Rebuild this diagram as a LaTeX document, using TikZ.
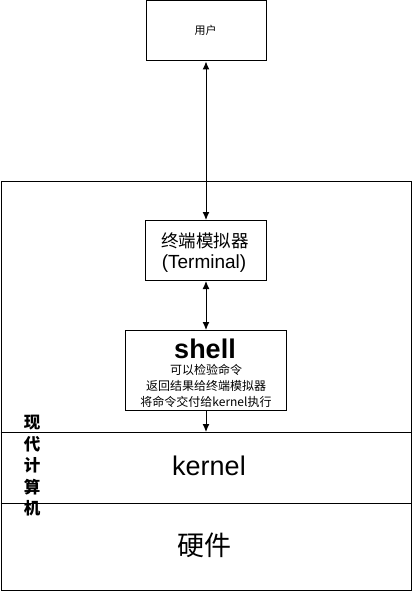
\documentclass[tikz,border=0pt]{standalone}
\usepackage{fontspec}
\setmainfont{Liberation Sans}
\newfontfamily\cjk{Noto Sans CJK SC}
\usetikzlibrary{arrows.meta}
\begin{document}
\begin{tikzpicture}[x=1pt,y=-1pt,line width=1pt,
  box/.style={draw=black,line width=1pt,inner sep=0pt},
  lbl/.style={inner sep=0pt,anchor=center},
  vlbl/.style={inner sep=0pt,anchor=center,font=\cjk\bfseries\fontsize{16.5}{17}\selectfont},
  sline/.style={inner sep=0pt,anchor=center,font=\cjk\fontsize{12}{12}\selectfont},
  conn/.style={line width=1pt,{Latex[length=8pt,width=7pt]}-{Latex[length=8pt,width=7pt]}},
  oneway/.style={line width=1pt,-{Latex[length=8pt,width=7pt]}}]
\useasboundingbox (0,0) rectangle (412,591);
% outer computer box
\node[box,minimum width=410pt,minimum height=409pt,anchor=north west] (comp) at (0.5,180.5) {};
\coordinate (k1) at (0.5,432.5);
\coordinate (k2) at (411.5,432.5);
\coordinate (h1) at (0.5,503.5);
\coordinate (h2) at (411.5,503.5);
\draw (k1) -- (k2);
\draw (h1) -- (h2);
% user
\node[box,minimum width=120pt,minimum height=60pt,anchor=north west] (user) at (146,0.5) {};
\node[lbl,font=\cjk\fontsize{11}{11}\selectfont] (usertxt) at (205.5,30) {用户};
% terminal
\node[box,minimum width=121pt,minimum height=60pt,anchor=north west] (term) at (145,220) {};
\node[lbl,font=\cjk\fontsize{17.5}{18}\selectfont] (termtxt1) at (205,241) {终端模拟器};
\node[lbl,font=\fontsize{19}{20}\selectfont] (termtxt2) at (204,264) {(Terminal)};
% shell
\node[box,minimum width=161pt,minimum height=80pt,anchor=north west] (shell) at (125,330) {};
\node[lbl,font=\bfseries\fontsize{27}{28}\selectfont] (shelltxt) at (205,349) {shell};
\node[sline] (s1) at (206,370) {可以检验命令};
\node[sline] (s2) at (206,386) {返回结果给终端模拟器};
\node[sline] (s3) at (206,402) {将命令交付给kernel执行};
% kernel and hardware labels
\node[lbl,font=\fontsize{27}{28}\selectfont] (kernel) at (209,466) {kernel};
\node[lbl,font=\cjk\fontsize{27}{28}\selectfont] (hw) at (204,545) {硬件};
% vertical label
\node[vlbl] (m1) at (32,423) {现};
\node[vlbl] (m2) at (32,444) {代};
\node[vlbl] (m3) at (32,465) {计};
\node[vlbl] (m4) at (32,487) {算};
\node[vlbl] (m5) at (32,508) {机};
% connectors
\draw[conn] (user.south -| 206,0) -- (term.north -| 206,0);
\draw[conn] (term.south -| 206,0) -- (shell.north -| 206,0);
\coordinate (kin) at (206,432);
\draw[oneway] (shell.south -| 206,0) -- (kin);
\end{tikzpicture}
\end{document}
